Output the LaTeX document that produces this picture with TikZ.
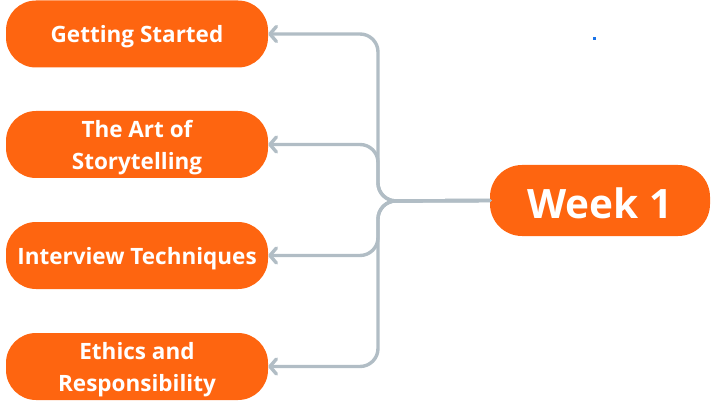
\documentclass[tikz,border=0pt]{standalone}
\usepackage{fontspec}
\setmainfont{Open Sans}
\usetikzlibrary{arrows.meta}
\definecolor{boxorange}{HTML}{FE6510}
\definecolor{conngray}{HTML}{B1BDC5}
\definecolor{dotblue}{HTML}{1A73E8}
\newcommand{\lowertext}[1]{\raisebox{-3pt}[\height][\depth]{#1}}
\begin{document}
\begin{tikzpicture}[x=1pt,y=-1pt,
  topic/.style={fill=boxorange, rounded corners=30pt, minimum width=262pt, minimum height=67pt,
    text=white, font=\bfseries\fontsize{22.5}{32}\selectfont, align=center, inner sep=0pt},
  weekbox/.style={fill=boxorange, rounded corners=32pt, minimum width=220pt, minimum height=71pt,
    text=white, font=\bfseries\fontsize{40.5}{48}\selectfont, inner sep=0pt},
  conn/.style={draw=conngray, line width=3.4pt, rounded corners=18pt, line cap=round,
    -{Straight Barb[length=6.5pt,width=15pt,round]}}]
\useasboundingbox (0,0) rectangle (711,403);
\node[topic] (g) at (137,34) {\lowertext{Getting Started}};
\node[topic] (s) at (137,144.5) {\lowertext{\parbox{250pt}{\centering The Art of\\Storytelling}}};
\node[topic] (i) at (137,255.5) {\lowertext{Interview Techniques}};
\node[topic] (e) at (137,366.5) {\lowertext{\parbox{250pt}{\centering Ethics and\\Responsibility}}};
\node[weekbox] (w) at (600,200.5) {\lowertext{Week 1}};
\coordinate (trunk) at (378,201);
\draw[conn] (w.west) -- (trunk) |- (g.east);
\draw[conn] (w.west) -- (trunk) |- (s.east);
\draw[conn] (w.west) -- (trunk) |- (i.east);
\draw[conn] (w.west) -- (trunk) |- (e.east);
\fill[dotblue] (593,37) rectangle (596,40);
\end{tikzpicture}
\end{document}
